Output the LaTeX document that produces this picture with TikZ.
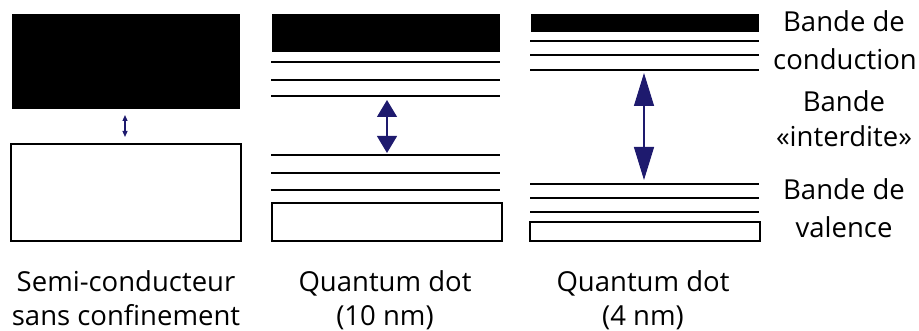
\documentclass[tikz,border=0pt]{standalone}
\usepackage{fontspec}
\setmainfont{Open Sans}
\usetikzlibrary{arrows.meta}
\definecolor{gapblue}{RGB}{30,26,110}
\tikzset{
  band/.style={fill=black,draw=none},
  valbox/.style={draw=black,line width=2pt,fill=white},
  level/.style={line width=2pt,black},
  gaparrow/.style={draw=gapblue,fill=gapblue,line width=1.2pt},
  lab/.style={font=\fontsize{27.5}{33}\selectfont,align=center,inner sep=0pt,anchor=base},
}
\begin{document}
\begin{tikzpicture}[x=1pt,y=-1pt]
\useasboundingbox (0,0) rectangle (919,331);
% Panel 1
\fill[band] (12,14) rectangle (240,109);
\draw[valbox] (11,144) rectangle (241,241);
\coordinate (a1t) at (125,115);
\coordinate (a1b) at (125,137);
\draw[gaparrow,{Triangle[length=6pt,width=5pt]}-{Triangle[length=6pt,width=5pt]}] (a1t) -- (a1b);
% Panel 2
\fill[band] (272,14) rectangle (500,52);
\foreach \y in {62,80,96,155,173,190} \draw[level] (271,\y) -- (500,\y);
\draw[valbox] (272,203) rectangle (502,241);
\coordinate (a2t) at (387,100);
\coordinate (a2b) at (387,153);
\draw[gaparrow,{Triangle[length=17pt,width=20pt]}-{Triangle[length=17pt,width=20pt]}] (a2t) -- (a2b);
% Panel 3
\fill[band] (531,14) rectangle (759,32);
\foreach \y in {41,55,70,184,198,212} \draw[level] (530,\y) -- (759,\y);
\draw[valbox] (530,222) rectangle (760,241);
\coordinate (a3t) at (644,73);
\coordinate (a3b) at (644,180);
\draw[gaparrow,{Triangle[length=33pt,width=20pt]}-{Triangle[length=33pt,width=20pt]}] (a3t) -- (a3b);
% Right labels
\node[lab] (l1) at (844,32) {Bande de};
\node[lab] (l2) at (845,70) {conduction};
\node[lab] (l3) at (844,112) {Bande};
\node[lab] (l4) at (844,147) {«interdite»};
\node[lab] (l5) at (844,200) {Bande de};
\node[lab] (l6) at (844,238) {valence};
% Bottom labels
\node[lab] (b1) at (126,292) {Semi-conducteur};
\node[lab] (b2) at (126,325) {sans confinement};
\node[lab] (b3) at (385,292) {Quantum dot};
\node[lab] (b4) at (385,325) {(10 nm)};
\node[lab] (b5) at (643,292) {Quantum dot};
\node[lab] (b6) at (643,325) {(4 nm)};
\end{tikzpicture}
\end{document}
